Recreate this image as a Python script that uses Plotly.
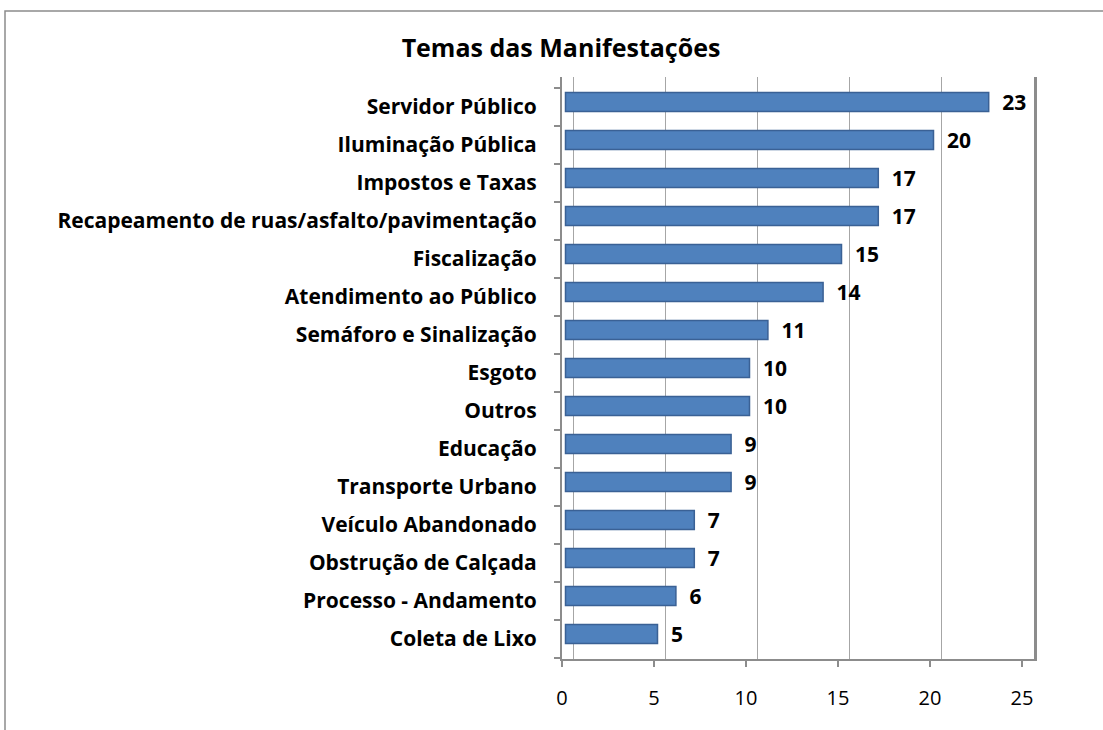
import plotly.graph_objects as go

# Data (top to bottom as shown in the chart)
categories = [
    "Servidor Público",
    "Iluminação Pública",
    "Impostos e Taxas",
    "Recapeamento de ruas/asfalto/pavimentação",
    "Fiscalização",
    "Atendimento ao Público",
    "Semáforo e Sinalização",
    "Esgoto",
    "Outros",
    "Educação",
    "Transporte Urbano",
    "Veículo Abandonado",
    "Obstrução de Calçada",
    "Processo - Andamento",
    "Coleta de Lixo",
]
values = [23, 20, 17, 17, 15, 14, 11, 10, 10, 9, 9, 7, 7, 6, 5]
x_ticks = [0, 5, 10, 15, 20, 25]
title_text = "Temas das Manifestações"

# plotly draws the first category at the bottom
cats_bottom_up = categories[::-1]
vals_bottom_up = values[::-1]

FONT = "Open Sans"
W, H = 1103, 730
L, R, T, B = 562, 69, 77, 71
plot_w = W - L - R
plot_h = H - T - B
px_per_unit = 460 / 25.0
x_max = plot_w / px_per_unit
n_units = plot_h / 38.0

GRID = "#A6A6A6"
AXIS = "#8C8C8C"

fig = go.Figure()

# invisible trace carrying the front axes
fig.add_trace(go.Scatter(
    x=vals_bottom_up, y=cats_bottom_up, xaxis="x", yaxis="y",
    mode="markers", marker=dict(opacity=0), hoverinfo="skip", showlegend=False,
))
# invisible trace carrying the back-wall grid axis and the right wall line
fig.add_trace(go.Scatter(
    x=vals_bottom_up, y=cats_bottom_up, xaxis="x2", yaxis="y3",
    mode="markers", marker=dict(opacity=0), hoverinfo="skip", showlegend=False,
))

# the bars (set slightly back from the front axes, as in the 3D original)
fig.add_trace(go.Bar(
    x=vals_bottom_up, y=cats_bottom_up, orientation="h",
    xaxis="x3", yaxis="y2",
    marker=dict(color="#4F81BD", line=dict(color="#3A6195", width=1.5)),
    text=vals_bottom_up, texttemplate="\u2002%{text}", textposition="outside",
    textfont=dict(family=FONT, size=21, color="#000000", weight="bold"),
    constraintext="none", cliponaxis=False, showlegend=False,
))

front_off = 0.53
bar_off = 0.66
fig.update_layout(
    width=W, height=H, autosize=False,
    margin=dict(l=L, r=R, t=T, b=B, pad=0),
    paper_bgcolor="white", plot_bgcolor="white",
    bargap=0.5,
    title=dict(text="<b>" + title_text + "</b>", x=561 / W, xref="container", xanchor="center",
               y=1 - 48 / H, yref="container", yanchor="middle",
               font=dict(family=FONT, size=25, color="#000000")),
    xaxis=dict(range=[0, x_max], tickvals=x_ticks, showgrid=False, zeroline=False,
               showline=True, linecolor=AXIS, linewidth=2,
               ticks="outside", ticklen=6, tickcolor=AXIS, tickwidth=1.5,
               ticklabelstandoff=14,
               tickfont=dict(family=FONT, size=20, color="#000000"), fixedrange=True),
    xaxis2=dict(overlaying="x", range=[-11 / px_per_unit, x_max - 11 / px_per_unit],
                tickvals=x_ticks, showgrid=True, gridcolor=GRID, gridwidth=1,
                zeroline=True, zerolinecolor=GRID, zerolinewidth=1,
                showticklabels=False, ticks="", showline=False, anchor="y", side="bottom"),
    xaxis3=dict(overlaying="x", range=[-3.5 / px_per_unit, x_max - 3.5 / px_per_unit],
                showgrid=False, zeroline=False, showticklabels=False, ticks="",
                showline=False, anchor="y"),
    yaxis=dict(type="category", categoryarray=cats_bottom_up,
               range=[-front_off, n_units - front_off],
               showgrid=False, zeroline=False, showline=True, linecolor=AXIS, linewidth=2,
               ticks="outside", tickson="boundaries", ticklen=6, tickcolor=AXIS, tickwidth=1.5,
               ticklabelstandoff=19,
               tickfont=dict(family=FONT, size=21, color="#000000", weight="bold"), fixedrange=True),
    yaxis2=dict(type="category", categoryarray=cats_bottom_up, overlaying="y",
                range=[-bar_off, n_units - bar_off],
                showgrid=False, zeroline=False, showticklabels=False, ticks="",
                showline=False, anchor="x"),
    yaxis3=dict(type="category", categoryarray=cats_bottom_up, overlaying="y", side="right",
                range=[-front_off, n_units - front_off],
                showgrid=False, zeroline=False, showticklabels=False, ticks="",
                showline=True, linecolor=AXIS, linewidth=2.5, anchor="x"),
)

# outer chart frame (extends past the page edges on the right and bottom)
fig.add_shape(type="rect", xref="paper", yref="paper",
              x0=(5 - L) / plot_w, x1=(W + 10 - L) / plot_w,
              y0=-(B + 10) / plot_h, y1=1 + (T - 11) / plot_h,
              line=dict(color="#8C8C8C", width=1.5), layer="below")

fig.write_html("out.html", config={"displayModeBar": False},
               post_script="document.body.style.margin='0';")
